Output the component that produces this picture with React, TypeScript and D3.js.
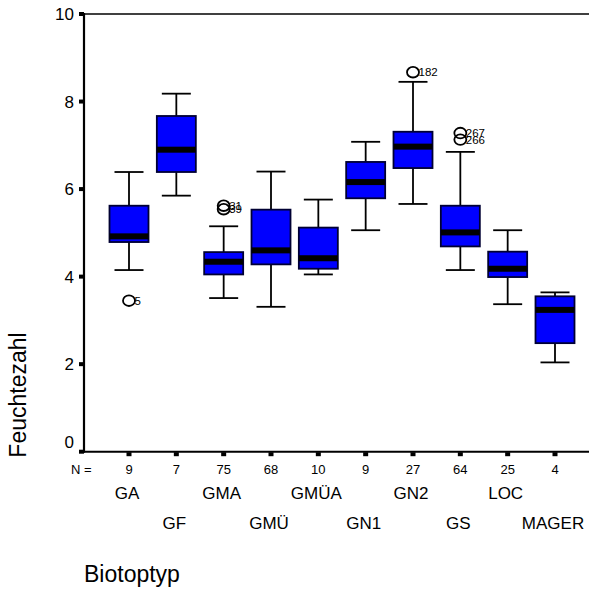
import React from 'react';
import * as d3 from 'd3';

// Data
const categories = ['GA', 'GF', 'GMA', 'GMÜ', 'GMÜA', 'GN1', 'GN2', 'GS', 'LOC', 'MAGER'];
const nCounts = [9, 7, 75, 68, 10, 9, 27, 64, 25, 4];
const whiskerLow = [4.15, 5.85, 3.51, 3.31, 4.05, 5.06, 5.66, 4.15, 3.37, 2.04];
const q1 = [4.79, 6.39, 4.05, 4.28, 4.18, 5.79, 6.48, 4.69, 3.99, 2.48];
const medians = [4.92, 6.9, 4.34, 4.6, 4.42, 6.16, 6.97, 5.01, 4.18, 3.24];
const q3 = [5.62, 7.67, 4.56, 5.53, 5.12, 6.62, 7.31, 5.62, 4.57, 3.55];
const whiskerHigh = [6.39, 8.18, 5.15, 6.4, 5.76, 7.08, 8.45, 6.85, 5.06, 3.64];
const outlierCats = ['GA', 'GMA', 'GMA', 'GN2', 'GS', 'GS'];
const outlierValues = [3.45, 5.62, 5.54, 8.67, 7.28, 7.13];
const outlierLabels = ['5', '31', '39', '182', '267', '266'];
const yTicks = [0, 2, 4, 6, 8, 10];

const W = 595;
const H = 594;
const left = 84;
const right = 589;
const font = 'Arial, "Liberation Sans", Helvetica, sans-serif';

export default function App() {
  const y = d3.scaleLinear().domain([0, 10]).range([451.7, 14]);
  const x = d3.scalePoint<string>().domain(categories).range([129, 555]);
  const boxW = 39;
  const capW = 29;

  return (
    <svg width={W} height={H} style={{ position: 'absolute', left: 0, top: 0, background: '#fff' }} fontFamily={font}>
      {/* frame */}
      <line x1={left} x2={right} y1={y(10)} y2={y(10)} stroke="#000" strokeWidth={1.6} />
      <line x1={left} x2={right} y1={y(0)} y2={y(0)} stroke="#000" strokeWidth={2} />
      <line x1={left} x2={left} y1={y(10) - 1} y2={y(0) + 1} stroke="#000" strokeWidth={2.2} />

      {/* y ticks */}
      {yTicks.map(t => (
        <g key={t}>
          <rect x={left - 5} y={y(t) - 2} width={5} height={4} fill="#000" />
          <text x={74} y={y(t) - (t === 0 ? 10 : 0)} dy="0.36em" textAnchor="end" fontSize={17}>{t}</text>
        </g>
      ))}

      {/* x ticks, N row, category labels */}
      <text x={71} y={474} fontSize={13}>N =</text>
      {categories.map((c, i) => (
        <g key={c}>
          <rect x={x(c)! - 2.5} y={y(0) + 0.5} width={5} height={4} fill="#000" />
          <text x={x(c)} y={474} textAnchor="middle" fontSize={13}>{nCounts[i]}</text>
          <text x={x(c)! - 2} y={i % 2 === 0 ? 499 : 529} textAnchor="middle" fontSize={17}>{c}</text>
        </g>
      ))}

      {/* boxes */}
      {categories.map((c, i) => {
        const cx = x(c)!;
        return (
          <g key={'b' + c}>
            <line x1={cx} x2={cx} y1={y(whiskerHigh[i])} y2={y(q3[i])} stroke="#000" strokeWidth={1.8} />
            <line x1={cx} x2={cx} y1={y(q1[i])} y2={y(whiskerLow[i])} stroke="#000" strokeWidth={1.8} />
            <line x1={cx - capW / 2} x2={cx + capW / 2} y1={y(whiskerHigh[i])} y2={y(whiskerHigh[i])} stroke="#000" strokeWidth={1.8} />
            <line x1={cx - capW / 2} x2={cx + capW / 2} y1={y(whiskerLow[i])} y2={y(whiskerLow[i])} stroke="#000" strokeWidth={1.8} />
            <rect x={cx - boxW / 2} y={y(q3[i])} width={boxW} height={y(q1[i]) - y(q3[i])} fill="#0000ff" stroke="#000033" strokeWidth={1.8} />
            <rect x={cx - boxW / 2} y={y(medians[i]) - 3} width={boxW} height={6} fill="#000" />
          </g>
        );
      })}

      {/* outliers */}
      {outlierValues.map((v, i) => {
        const cx = x(outlierCats[i])!;
        return (
          <g key={'o' + i}>
            <ellipse cx={cx} cy={y(v)} rx={6} ry={5.3} fill="none" stroke="#000" strokeWidth={1.8} />
            <text x={cx + 5.5} y={y(v) + 4} fontSize={11.5}>{outlierLabels[i]}</text>
          </g>
        );
      })}

      {/* axis titles */}
      <text transform={`translate(26,395) rotate(-90)`} textAnchor="middle" fontSize={23}>Feuchtezahl</text>
      <text x={84} y={582} fontSize={23}>Biotoptyp</text>
    </svg>
  );
}
